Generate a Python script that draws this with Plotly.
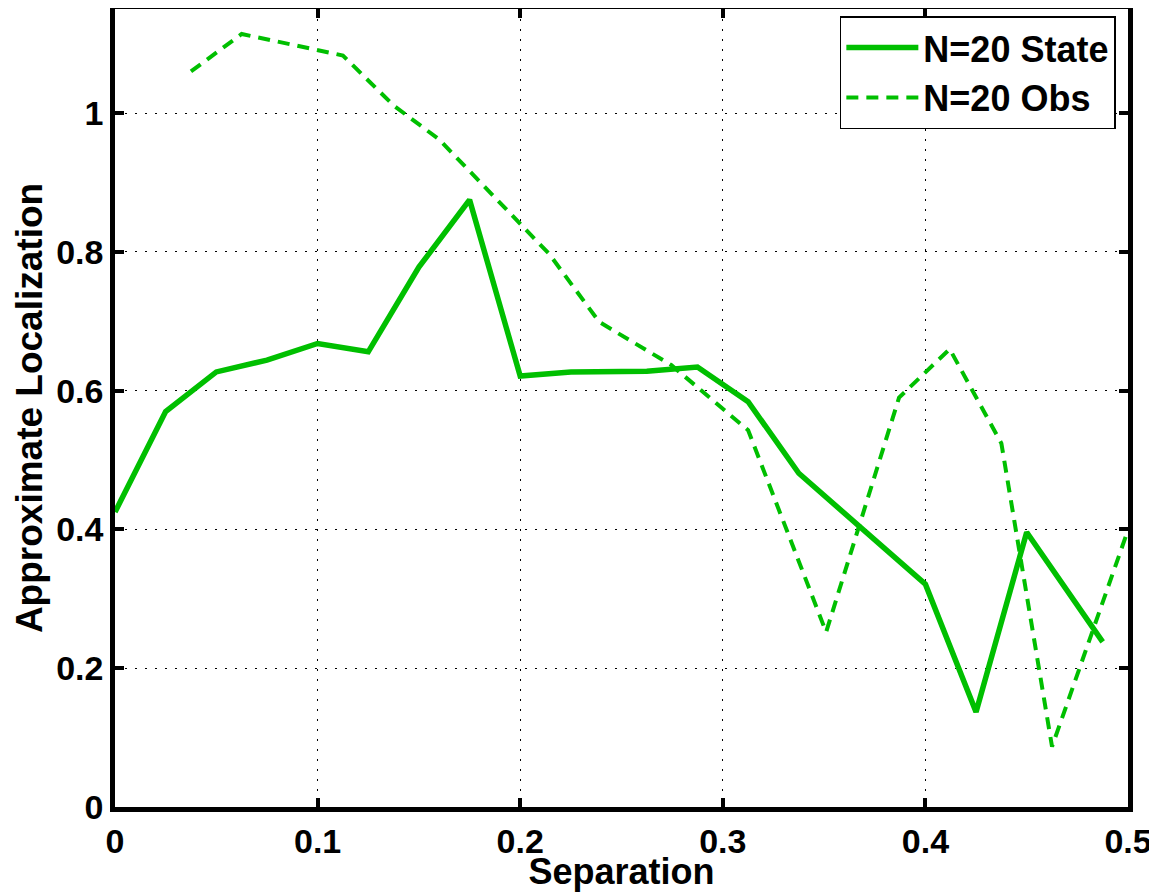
import plotly.graph_objects as go

# N=20 State (solid)
state_x = [0.0, 0.025, 0.05, 0.075, 0.1, 0.125, 0.15, 0.175, 0.2, 0.225, 0.2625, 0.2875, 0.3125, 0.3375, 0.4, 0.425, 0.45, 0.4875]
state_y = [0.425, 0.570, 0.627, 0.644, 0.668, 0.656, 0.778, 0.875, 0.621, 0.627, 0.628, 0.634, 0.584, 0.481, 0.321, 0.137, 0.396, 0.238]

# N=20 Obs (dashed)
obs_x = [0.0375, 0.0625, 0.1125, 0.1375, 0.16, 0.2143, 0.239, 0.2745, 0.3125, 0.351, 0.387, 0.412, 0.4375, 0.4625, 0.5]
obs_y = [1.060, 1.114, 1.083, 1.011, 0.962, 0.797, 0.699, 0.637, 0.543, 0.252, 0.590, 0.660, 0.524, 0.087, 0.399]

x_ticks = [0, 0.1, 0.2, 0.3, 0.4, 0.5]
x_tick_text = ["0", "0.1", "0.2", "0.3", "0.4", "0.5"]
y_ticks = [0, 0.2, 0.4, 0.6, 0.8, 1.0]
y_tick_text = ["0", "0.2", "0.4", "0.6", "0.8", "1"]

GREEN = "rgb(0,191,0)"
FONT = "Liberation Sans, Arial, Helvetica, sans-serif"

fig = go.Figure()
fig.add_trace(go.Scatter(x=state_x, y=state_y, mode="lines", name="N=20 State",
                         line=dict(color=GREEN, width=5.5)))
fig.add_trace(go.Scatter(x=obs_x, y=obs_y, mode="lines", name="N=20 Obs",
                         line=dict(color=GREEN, width=4, dash="12px,8px")))

axis_common = dict(
    showline=True, linecolor="black", linewidth=4.5, mirror="ticks",
    ticks="inside", ticklen=9, tickwidth=4, tickcolor="black",
    showgrid=True, gridcolor="black", gridwidth=1.2, griddash="2px,8px",
    zeroline=False, automargin=False,
    tickfont=dict(family=FONT, size=34, color="black", weight="bold"),
)

fig.update_xaxes(range=[0, 0.5], tickvals=x_ticks, ticktext=x_tick_text,
                 title=dict(text="Separation", standoff=0,
                            font=dict(family=FONT, size=36, color="black", weight="bold")),
                 **axis_common)
fig.update_yaxes(range=[0, 1.15], tickvals=y_ticks, ticktext=y_tick_text,
                 title=dict(text="Approximate Localization", standoff=4,
                            font=dict(family=FONT, size=37, color="black", weight="bold")),
                 **axis_common)

# page body has an 8px margin, so the figure is sized 8px smaller
fig.update_layout(
    width=1149, height=884,
    margin=dict(l=107, r=29, t=1, b=85),
    paper_bgcolor="white", plot_bgcolor="white",
    showlegend=True,
    legend=dict(x=0.988, y=0.991, xanchor="right", yanchor="top",
                bgcolor="white", bordercolor="black", borderwidth=1.5,
                font=dict(family=FONT, size=36, color="black", weight="bold"),
                tracegroupgap=0, itemwidth=72),
)

fig.write_html("out.html")
